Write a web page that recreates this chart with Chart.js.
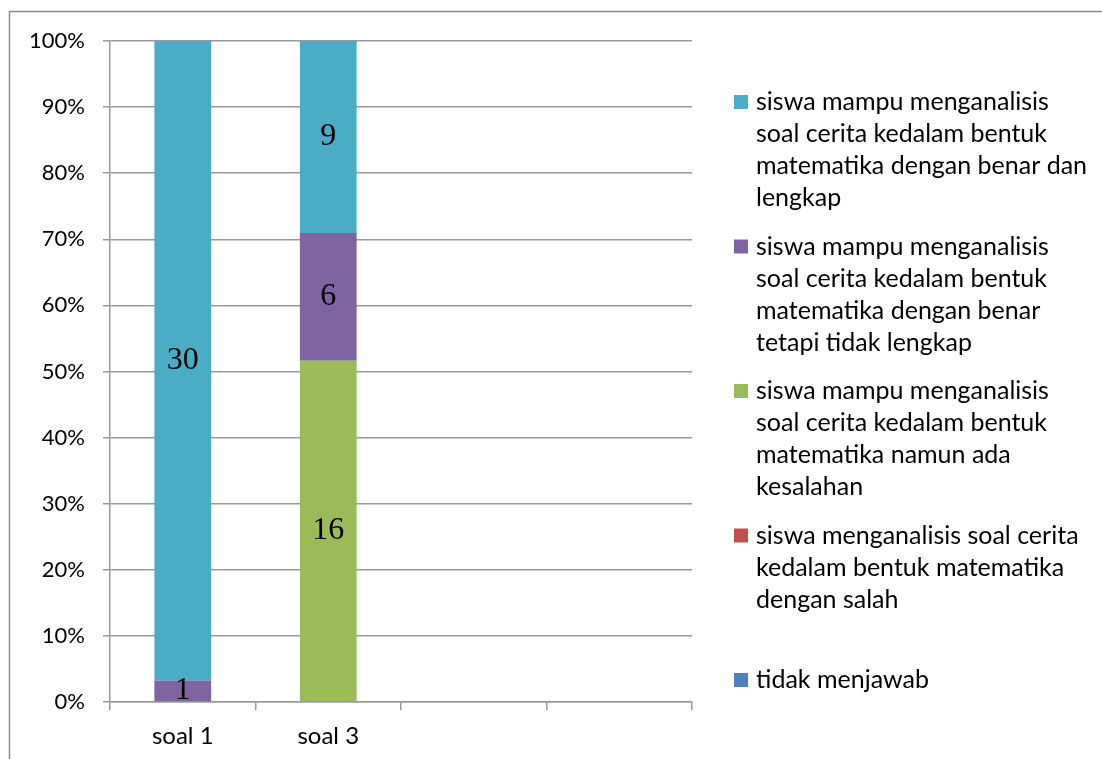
<!DOCTYPE html>
<html>
<head>
<meta charset="utf-8">
<script src="https://cdn.jsdelivr.net/npm/chart.js@4.4.0/dist/chart.umd.min.js"></script>
<style>
  html, body { margin: 0; padding: 0; background: #fff; }
  #wrap { width: 1102px; height: 759px; position: relative; }
</style>
</head>
<body>
<div id="wrap"><canvas id="mycanvas"></canvas></div>
<script>
// kategori soal (dua slot terakhir kosong)
var kategori = ['soal 1', 'soal 3', '', ''];

// jumlah siswa per kategori jawaban
var tidakMenjawab     = [0, 0];
var jawabSalah        = [0, 0];
var adaKesalahan      = [0, 16];
var benarTidakLengkap = [1, 6];
var benarLengkap      = [30, 9];

var yTicks = [0, 10, 20, 30, 40, 50, 60, 70, 80, 90, 100];

var namaSeri = [
	['tidak menjawab'],
	['siswa menganalisis soal cerita', 'kedalam bentuk matematika', 'dengan salah'],
	['siswa mampu menganalisis', 'soal cerita kedalam bentuk', 'matematika namun ada', 'kesalahan'],
	['siswa mampu menganalisis', 'soal cerita kedalam bentuk', 'matematika dengan benar', 'tetapi tidak lengkap'],
	['siswa mampu menganalisis', 'soal cerita kedalam bentuk', 'matematika dengan benar dan', 'lengkap']
];
var warna = ['#4F81BD', '#C0504D', '#9BBB59', '#8064A2', '#4BACC6'];

var semua = [tidakMenjawab, jawabSalah, adaKesalahan, benarTidakLengkap, benarLengkap];
var total = [];
for (var i = 0; i < kategori.length; i++) {
	var t = 0;
	semua.forEach(function(s){ if (s[i] != null) t += s[i]; });
	total.push(t);
}
function persen(arr) {
	return kategori.map(function(k, i){
		if (arr[i] == null || !total[i]) return null;
		return arr[i] / total[i] * 100;
	});
}

var datasets = semua.map(function(s, idx){
	return {
		label: namaSeri[idx].join(' '),
		data: persen(s),
		jumlah: s,
		backgroundColor: warna[idx],
		borderWidth: 0,
		barPercentage: 0.39,
		categoryPercentage: 1.0
	};
});

var FONT = 'Lato, "Open Sans", sans-serif';
var garis = '#999999';

// bingkai, label nilai, dan legenda
var hiasan = {
	id: 'hiasan',
	beforeDraw: function(chart) {
		var c = chart.ctx;
		c.save();
		c.strokeStyle = '#8c8c8c';
		c.lineWidth = 1.5;
		c.beginPath();
		c.moveTo(9.5, 759);
		c.lineTo(9.5, 11.5);
		c.lineTo(1102, 11.5);
		c.stroke();
		c.restore();
	},
	afterDatasetsDraw: function(chart) {
		var c = chart.ctx;
		c.save();
		c.font = '32px "Liberation Serif", "Times New Roman", serif';
		c.fillStyle = '#000';
		c.textAlign = 'center';
		c.textBaseline = 'middle';
		chart.data.datasets.forEach(function(ds, di){
			var meta = chart.getDatasetMeta(di);
			meta.data.forEach(function(el, i){
				var v = ds.jumlah[i];
				if (!v) return;
				c.fillText(String(v), el.x, (el.y + el.base) / 2);
			});
		});
		c.restore();
	},
	afterDraw: function(chart) {
		var c = chart.ctx;
		c.save();
		c.font = '25px ' + FONT;
		c.textAlign = 'left';
		c.textBaseline = 'middle';
		var n = chart.data.datasets.length;
		for (var k = 0; k < n; k++) {
			var di = n - 1 - k;
			var y0 = 102 + k * 144.5;
			c.fillStyle = warna[di];
			c.fillRect(734, y0 - 7, 14, 14);
			c.fillStyle = '#000';
			namaSeri[di].forEach(function(line, j){
				c.fillText(line, 756, y0 + j * 32);
			});
		}
		c.restore();
	}
};

var ctx = document.getElementById('mycanvas');
var grafik = new Chart(ctx, {
	type: 'bar',
	data: { labels: kategori, datasets: datasets },
	options: {
		responsive: true,
		maintainAspectRatio: false,
		animation: false,
		layout: { padding: { top: 41, right: 410, bottom: 0, left: 0 } },
		plugins: {
			legend: { display: false },
			tooltip: { enabled: false }
		},
		scales: {
			x: {
				stacked: true,
				grid: { offset: true, drawOnChartArea: false, drawTicks: true, tickLength: 8, color: garis, lineWidth: 1.5 },
				border: { display: true, color: garis, width: 1.5 },
				ticks: { color: '#000', font: { family: FONT, size: 24 }, padding: 12, maxRotation: 0 },
				afterFit: function(s){ s.height = 57; }
			},
			y: {
				stacked: true,
				min: 0,
				max: 100,
				afterBuildTicks: function(s){ s.ticks = yTicks.map(function(v){ return { value: v }; }); },
				grid: { color: garis, lineWidth: 1.5, tickLength: 7 },
				border: { display: true, color: garis, width: 1.5 },
				ticks: {
					color: '#000',
					font: { family: FONT, size: 22 },
					padding: 18,
					callback: function(v){ return v + '%'; }
				},
				afterFit: function(s){ s.width = 110; }
			}
		}
	},
	plugins: [hiasan]
});
</script>
</body>
</html>
